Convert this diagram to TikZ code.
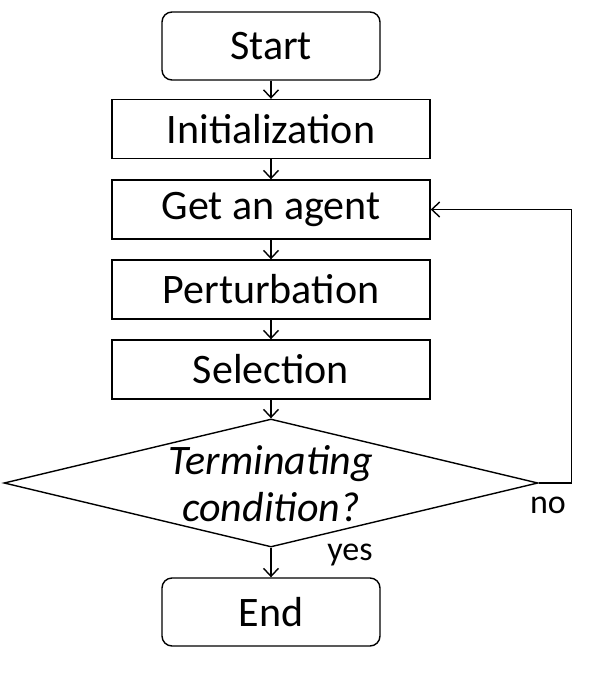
\documentclass[tikz,border=0pt]{standalone}
\usepackage{fontspec}
\setmainfont{Carlito}
\usetikzlibrary{shapes.geometric,arrows.meta}
\begin{document}
\begin{tikzpicture}[x=1pt,y=-1pt,
  line width=1.4pt,
  every node/.style={inner sep=0pt},
  flowbox/.style={draw,rectangle,minimum width=318pt,minimum height=59pt,font=\fontsize{42}{46}\selectfont},
  termbox/.style={draw,rectangle,rounded corners=10pt,minimum width=218pt,minimum height=68pt,font=\fontsize{42}{46}\selectfont},
  decbox/.style={draw,diamond,minimum width=534pt,minimum height=128pt},
  dectext/.style={align=center,font=\fontsize{42}{47}\selectfont\itshape},
  lbl/.style={font=\fontsize{34}{38}\selectfont},
  arr/.style={-{Straight Barb[length=8pt,width=15pt,line width=1.4pt]}}
]
\useasboundingbox (0,0) rectangle (611,681);
\node[termbox] (start) at (271,46) {Start};
\node[flowbox] (init) at (271,129) {Initialization};
\node[flowbox] (get) at (271,209.5) {Get an agent};
\node[flowbox] (pert) at (271,289.5) {Perturbation};
\node[flowbox] (sel) at (271,369.5) {Selection};
\node[decbox] (dec) at (271,483) {};
\node[dectext] (dect) at (271,484) {Terminating\\condition?};
\node[termbox] (end) at (271,612) {End};
\draw[arr] (start) -- (init);
\draw[arr] (init) -- (get);
\draw[arr] (get) -- (pert);
\draw[arr] (pert) -- (sel);
\draw[arr] (sel) -- (dec.north);
\draw[arr] (dec.south) -- (end);
\draw[arr] (dec.east) -- ++(33,0) |- (get.east);
\node[lbl] (no) at (548,505) {no};
\node[lbl] (yes) at (350,555) {yes};
\end{tikzpicture}
\end{document}
